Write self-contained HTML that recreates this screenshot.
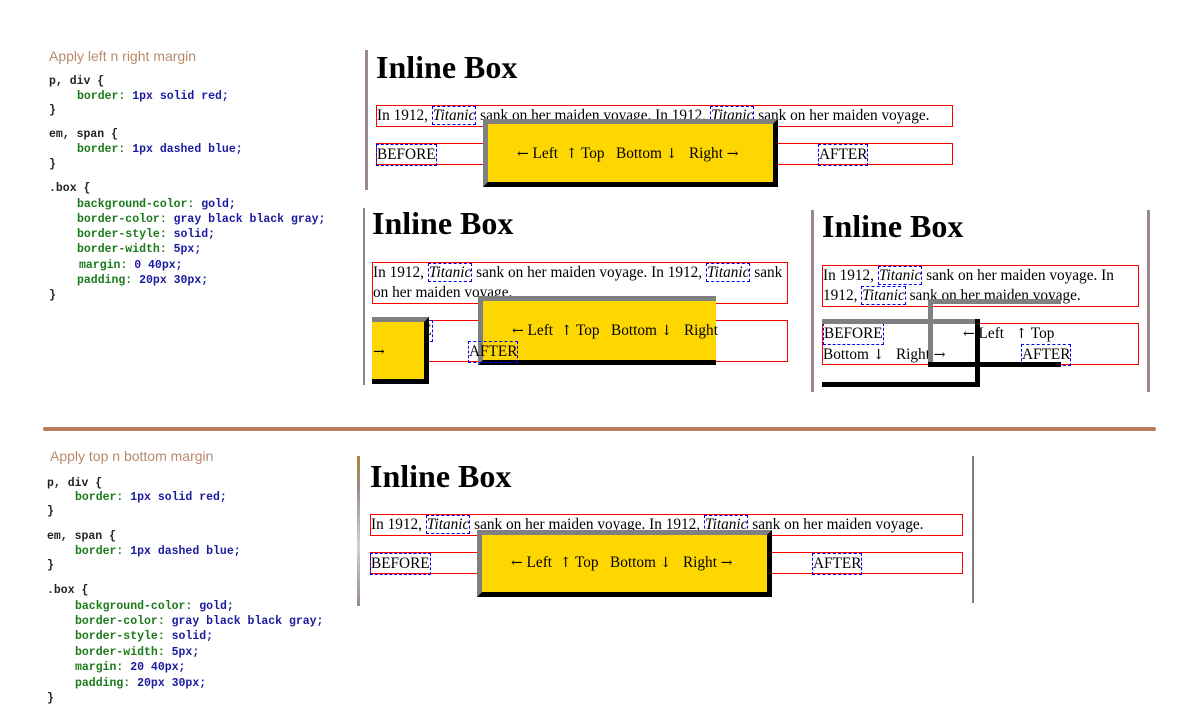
<!DOCTYPE html>
<html><head><meta charset="utf-8">
<style>
*{margin:0;padding:0;box-sizing:border-box}
body{width:1193px;height:728px;background:#fff;position:relative;overflow:hidden;font-family:"Liberation Serif",serif;color:#000}
.a{position:absolute;white-space:nowrap}
.t{font-family:"Liberation Sans",sans-serif;font-size:14px;color:#b98a6a}
.c{font-family:"Liberation Mono",monospace;font-size:11.5px;font-weight:bold;color:#222}
.g{color:#1a7a1a}.b{color:#1a1aa0}
.h{font-weight:bold;font-size:32px;line-height:36px}
.s{font-size:15.3px;line-height:20px}
.rb{border:1px solid red}
.db{border:1px dashed blue}
.gold{background:#ffd700;border-style:solid;border-width:5px;border-color:gray black black gray}
.bar{background:#9a8a85}
.ar{font-family:"DejaVu Serif",serif;font-size:14px}
</style></head><body>

<!-- code block 1 -->
<div class="a t" style="left:49px;top:48px">Apply left n right margin</div>
<div class="a c" style="left:49px;top:75px">p, div {</div>
<div class="a c" style="left:77px;top:90px"><span class="g">border:</span> <span class="b">1px solid red;</span></div>
<div class="a c" style="left:49px;top:104px">}</div>
<div class="a c" style="left:49px;top:128px">em, span {</div>
<div class="a c" style="left:77px;top:143px"><span class="g">border:</span> <span class="b">1px dashed blue;</span></div>
<div class="a c" style="left:49px;top:158px">}</div>
<div class="a c" style="left:49px;top:182px">.box {</div>
<div class="a c" style="left:77px;top:198px"><span class="g">background-color:</span> <span class="b">gold;</span></div>
<div class="a c" style="left:77px;top:213px"><span class="g">border-color:</span> <span class="b">gray black black gray;</span></div>
<div class="a c" style="left:77px;top:228px"><span class="g">border-style:</span> <span class="b">solid;</span></div>
<div class="a c" style="left:77px;top:243px"><span class="g">border-width:</span> <span class="b">5px;</span></div>
<div class="a c" style="left:79px;top:259px"><span class="g">margin:</span> <span class="b">0 40px;</span></div>
<div class="a c" style="left:77px;top:274px"><span class="g">padding:</span> <span class="b">20px 30px;</span></div>
<div class="a c" style="left:49px;top:289px">}</div>

<!-- code block 2 -->
<div class="a t" style="left:50px;top:448px">Apply top n bottom margin</div>
<div class="a c" style="left:47px;top:477px">p, div {</div>
<div class="a c" style="left:75px;top:491px"><span class="g">border:</span> <span class="b">1px solid red;</span></div>
<div class="a c" style="left:47px;top:505px">}</div>
<div class="a c" style="left:47px;top:530px">em, span {</div>
<div class="a c" style="left:75px;top:545px"><span class="g">border:</span> <span class="b">1px dashed blue;</span></div>
<div class="a c" style="left:47px;top:559px">}</div>
<div class="a c" style="left:47px;top:584px">.box {</div>
<div class="a c" style="left:75px;top:600px"><span class="g">background-color:</span> <span class="b">gold;</span></div>
<div class="a c" style="left:75px;top:615px"><span class="g">border-color:</span> <span class="b">gray black black gray;</span></div>
<div class="a c" style="left:75px;top:630px"><span class="g">border-style:</span> <span class="b">solid;</span></div>
<div class="a c" style="left:75px;top:646px"><span class="g">border-width:</span> <span class="b">5px;</span></div>
<div class="a c" style="left:75px;top:661px"><span class="g">margin:</span> <span class="b">20 40px;</span></div>
<div class="a c" style="left:75px;top:677px"><span class="g">padding:</span> <span class="b">20px 30px;</span></div>
<div class="a c" style="left:47px;top:692px">}</div>

<!-- divider -->
<div class="a" style="left:43px;top:427px;width:1113px;height:4px;background:#b97c5c;border-radius:2px"></div>

<!-- TOP PANEL -->
<div class="a bar" style="left:365px;top:50px;width:3px;height:140px"></div>
<div class="a h" style="left:376px;top:49px">Inline Box</div>
<div class="a rb" style="left:376px;top:105px;width:577px;height:22px"></div>
<div class="a s" style="left:377px;top:106px">In 1912, <i class="db">Titanic</i> sank on her maiden voyage. In 1912, <i class="db">Titanic</i> sank on her maiden voyage.</div>
<div class="a rb" style="left:376px;top:143px;width:577px;height:22px"></div>
<div class="a s db" style="left:376px;top:144px">BEFORE</div>
<div class="a s db" style="left:818px;top:144px">AFTER</div>
<div class="a gold" style="left:483px;top:119px;width:295px;height:68px"></div>
<div class="a s" style="left:517px;top:144px"><span class="ar">←</span> Left &nbsp;<span class="ar">↑</span> Top &nbsp; Bottom <span class="ar">↓</span> &nbsp; Right <span class="ar">→</span></div>

<!-- MIDDLE LEFT PANEL -->
<div class="a" style="left:363px;top:208px;width:2px;height:177px;background:#888"></div>
<div class="a h" style="left:372px;top:205px">Inline Box</div>
<div class="a rb" style="left:372px;top:262px;width:416px;height:42px"></div>
<div class="a s" style="left:373px;top:263px;line-height:20px">In 1912, <i class="db">Titanic</i> sank on her maiden voyage. In 1912, <i class="db">Titanic</i> sank<br>on her maiden voyage.</div>
<div class="a rb" style="left:372px;top:320px;width:416px;height:42px"></div>
<div class="a s db" style="left:372px;top:320px">BEFORE</div>
<div class="a gold" style="left:372px;top:317px;width:57px;height:67px;border-left:none"></div>
<div class="a s" style="left:373px;top:342px"><span class="ar">→</span></div>
<div class="a gold" style="left:478px;top:296px;width:238px;height:69px;border-right:none"></div>
<div class="a s" style="left:512px;top:321px"><span class="ar">←</span> Left &nbsp;<span class="ar">↑</span> Top &nbsp; Bottom <span class="ar">↓</span> &nbsp; Right</div>
<div class="a s db" style="left:468px;top:341px">AFTER</div>

<!-- MIDDLE RIGHT PANEL -->
<div class="a bar" style="left:811px;top:210px;width:3px;height:182px"></div>
<div class="a bar" style="left:1147px;top:210px;width:3px;height:182px"></div>
<div class="a h" style="left:822px;top:208px">Inline Box</div>
<div class="a rb" style="left:822px;top:265px;width:317px;height:42px"></div>
<div class="a s" style="left:823px;top:266px">In 1912, <i class="db">Titanic</i> sank on her maiden voyage. In<br>1912, <i class="db">Titanic</i> sank on her maiden voyage.</div>
<div class="a rb" style="left:822px;top:323px;width:317px;height:42px"></div>
<div class="a s db" style="left:823px;top:323px">BEFORE</div>
<div class="a s" style="left:963px;top:324px"><span class="ar">←</span> Left &nbsp; <span class="ar">↑</span> Top</div>
<div class="a s" style="left:823px;top:345px">Bottom <span class="ar">↓</span> &nbsp; Right <span class="ar">→</span></div>
<div class="a s db" style="left:1021px;top:344px">AFTER</div>
<div class="a" style="left:822px;top:319px;width:158px;height:5px;background:gray"></div>
<div class="a" style="left:975px;top:319px;width:5px;height:68px;background:#000"></div>
<div class="a" style="left:822px;top:382px;width:158px;height:5px;background:#000"></div>
<div class="a" style="left:928px;top:299px;width:133px;height:5px;background:gray"></div>
<div class="a" style="left:928px;top:299px;width:5px;height:68px;background:gray"></div>
<div class="a" style="left:928px;top:362px;width:133px;height:5px;background:#000"></div>

<!-- BOTTOM PANEL -->
<div class="a" style="left:357px;top:456px;width:3px;height:150px;background:linear-gradient(#b08a30,#9a8a85 20%,#d8cfcc 60%,#9a8a85)"></div>
<div class="a" style="left:972px;top:456px;width:2px;height:147px;background:#8a7a75"></div>
<div class="a h" style="left:370px;top:458px">Inline Box</div>
<div class="a rb" style="left:370px;top:514px;width:593px;height:22px"></div>
<div class="a s" style="left:371px;top:515px">In 1912, <i class="db">Titanic</i> sank on her maiden voyage. In 1912, <i class="db">Titanic</i> sank on her maiden voyage.</div>
<div class="a rb" style="left:370px;top:552px;width:593px;height:22px"></div>
<div class="a s db" style="left:370px;top:553px">BEFORE</div>
<div class="a s db" style="left:812px;top:553px">AFTER</div>
<div class="a gold" style="left:477px;top:530px;width:295px;height:67px"></div>
<div class="a s" style="left:511px;top:553px"><span class="ar">←</span> Left &nbsp;<span class="ar">↑</span> Top &nbsp; Bottom <span class="ar">↓</span> &nbsp; Right <span class="ar">→</span></div>

</body></html>
